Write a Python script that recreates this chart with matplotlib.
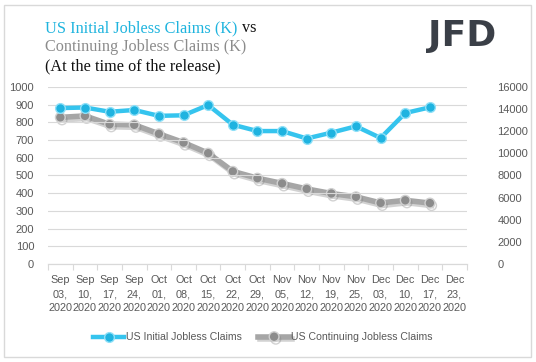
import numpy as np
import matplotlib.pyplot as plt
import matplotlib.patheffects as pe
from matplotlib.patches import Rectangle
from matplotlib.text import Annotation

plt.rcParams['font.family'] = ['Liberation Sans', 'DejaVu Sans']

dates = ["Sep\n03,\n2020", "Sep\n10,\n2020", "Sep\n17,\n2020", "Sep\n24,\n2020",
         "Oct\n01,\n2020", "Oct\n08,\n2020", "Oct\n15,\n2020", "Oct\n22,\n2020",
         "Oct\n29,\n2020", "Nov\n05,\n2020", "Nov\n12,\n2020", "Nov\n19,\n2020",
         "Nov\n25,\n2020", "Dec\n03,\n2020", "Dec\n10,\n2020", "Dec\n17,\n2020",
         "Dec\n23,\n2020"]
initial = [881, 884, 860, 870, 837, 840, 898, 787, 751, 751, 709, 742, 778, 712, 853, 885]
continuing = [13254, 13385, 12628, 12580, 11767, 10976, 10018, 8373, 7756, 7285,
              6786, 6372, 6071, 5520, 5757, 5508]

cyan = "#35C4EE"
grey = "#A6A6A6"
tick_col = "#595959"

fig = plt.figure(figsize=(5.36, 3.62), dpi=100)
fig.patches.append(Rectangle((0.008, 0.014), 0.983, 0.972, transform=fig.transFigure,
                             fill=False, edgecolor="#D9D9D9", linewidth=1))

ax = fig.add_axes([0.0896, 0.2707, 0.7814, 0.489])
ax2 = ax.twinx()

x = np.arange(len(initial))
shadow = [pe.SimpleLineShadow(offset=(1.2, -1.8), shadow_color="#7f7f7f", alpha=0.35), pe.Normal()]

ax2.plot(x, continuing, color=grey, lw=4, marker="o", ms=7, mfc="#8c8c8c",
         mec="#d0d0d0", mew=1, path_effects=shadow, label="US Continuing Jobless Claims", zorder=3)
ax.plot(x, initial, color=cyan, lw=3.2, marker="o", ms=7, mfc="#1fb3e0",
        mec="#8fe0f8", mew=1, label="US Initial Jobless Claims", zorder=4)
ax.set_zorder(ax2.get_zorder() + 1)
ax.patch.set_visible(False)

ax.set_xlim(-0.5, len(dates) - 0.5)
ax.set_ylim(0, 1000)
ax2.set_ylim(0, 16000)
ax.set_yticks(np.arange(0, 1001, 100))
ax2.set_yticks(np.arange(0, 16001, 2000))
ax.yaxis.grid(True, color="#D9D9D9", lw=0.8)
ax.set_axisbelow(True)

ax.set_xticks(np.arange(-0.5, len(dates), 1.0))
ax.set_xticklabels([])
ax.set_xticks(np.arange(len(dates)), minor=True)
ax.set_xticklabels(dates, minor=True, linespacing=1.5)
ax.tick_params(axis="x", which="major", length=4, color="#D9D9D9", width=0.8)
ax.tick_params(axis="x", which="minor", length=0, pad=8, labelsize=7.8, labelcolor=tick_col)
ax.tick_params(axis="y", length=0, labelsize=8, labelcolor=tick_col, pad=10)
ax2.tick_params(axis="y", length=0, labelsize=8, labelcolor=tick_col, pad=22)

for a in (ax, ax2):
    for s in ("top", "left", "right"):
        a.spines[s].set_visible(False)
    a.spines["bottom"].set_color("#D9D9D9")

h1, l1 = ax.get_legend_handles_labels()
h2, l2 = ax2.get_legend_handles_labels()
fig.legend(h1 + h2, l1 + l2, loc="center", bbox_to_anchor=(0.49, 0.068), ncol=2,
           frameon=False, fontsize=7.6, handlelength=3.0, handletextpad=0.1,
           columnspacing=1.6, labelcolor=tick_col)

serif = "Liberation Serif"
fs = 11.7
t1 = fig.text(0.084, 0.922, "US Initial Jobless Claims (K)", color="#1FB4DE",
              fontsize=fs, family=serif, va="center")
fig.add_artist(Annotation("vs", xy=(1, 0.5), xycoords=t1, xytext=(3, 0),
                          textcoords="offset points", color="#111111", fontsize=fs,
                          family=serif, va="center"))
fig.text(0.084, 0.869, "Continuing Jobless Claims (K)", color="#8C8C8C",
         fontsize=fs, family=serif, va="center")
fig.text(0.084, 0.817, "(At the time of the release)", color="#111111",
         fontsize=fs, family=serif, va="center")
fig.text(0.862, 0.9, "JFD", color="#3A3F47", fontsize=26, fontweight="bold",
         family="DejaVu Sans", va="center", ha="center")

fig.savefig("out.png", dpi=100)
